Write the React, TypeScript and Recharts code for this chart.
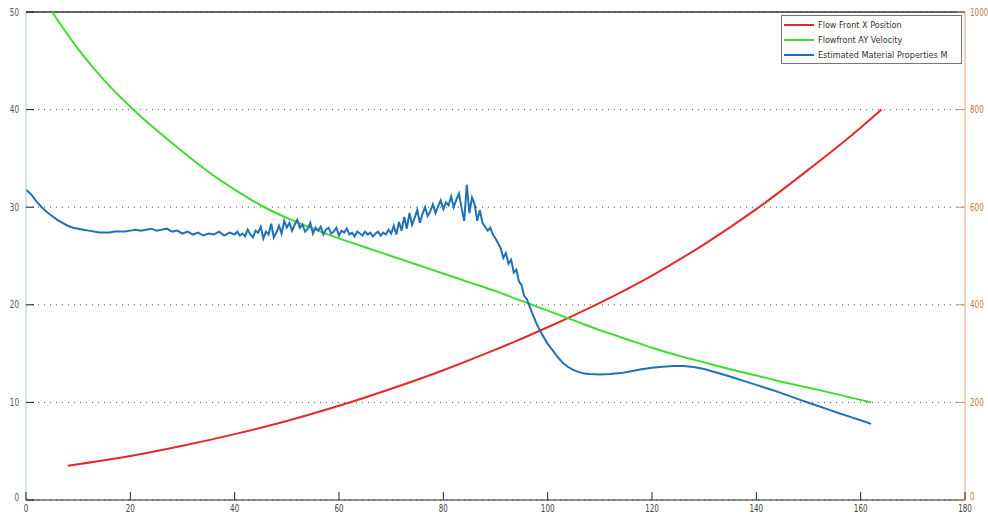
import { LineChart, Line, XAxis, YAxis, CartesianGrid, ReferenceLine, Legend } from 'recharts'

const xTicks = [0, 20, 40, 60, 80, 100, 120, 140, 160, 180]
const leftTicks = [0, 10, 20, 30, 40, 50]
const rightTicks = [0, 200, 400, 600, 800, 1000]

const seriesNames = ['Flow Front X Position', 'Flowfront AY Velocity', 'Estimated Material Properties M']

// flow front x position (right axis)
const frontPosition: [number, number][] = [
  [8, 70], [20, 90], [30, 111], [40, 135], [50, 162], [60, 193], [70, 228], [80, 266],
  [90, 308], [100, 354], [110, 404], [120, 460], [130, 524], [140, 596], [150, 677],
  [160, 763], [164, 800],
]

// flowfront velocity (left axis)
const frontVelocity: [number, number][] = [
  [5, 50], [10, 46.2], [15, 43.0], [20, 40.3], [25, 37.9], [30, 35.7], [35, 33.6],
  [40, 31.8], [45, 30.2], [50, 28.9], [55, 27.8], [60, 26.8], [65, 25.9], [70, 25.0],
  [75, 24.1], [80, 23.2], [85, 22.3], [90, 21.4], [95, 20.4], [100, 19.4], [105, 18.4],
  [110, 17.4], [115, 16.5], [120, 15.6], [125, 14.8], [130, 14.1], [135, 13.4],
  [140, 12.75], [145, 12.1], [150, 11.5], [155, 10.9], [162, 10.0],
]

// estimated material property (left axis)
const materialProp: [number, number][] = [
  [0, 31.8], [1, 31.3], [2, 30.6], [3, 30.0], [4, 29.5], [5, 29.1], [6, 28.7], [7, 28.4],
  [8, 28.1], [9, 27.9], [10, 27.8], [11, 27.7], [12, 27.6], [13, 27.5], [14, 27.4],
  [15, 27.4], [16, 27.4], [17, 27.5], [18, 27.5], [19, 27.5], [20, 27.6], [21, 27.7],
  [22, 27.6], [23, 27.7], [24, 27.8], [25, 27.6], [26, 27.7], [27, 27.8], [28, 27.5],
  [29, 27.6], [30, 27.3], [31, 27.5], [32, 27.2], [33, 27.4], [34, 27.1], [35, 27.3],
  [36, 27.2], [37, 27.5], [38, 27.1], [39, 27.4], [40, 27.2],
  [40.5, 27.5], [41, 27.1], [41.5, 27.3], [42, 27.0], [42.5, 27.7], [43, 27.2], [43.5, 26.9],
  [44, 27.6], [44.5, 27.4], [45, 28.0], [45.5, 26.8], [46, 27.5], [46.5, 27.2], [47, 28.3],
  [47.5, 26.9], [48, 27.4], [48.5, 28.1], [49, 27.3], [49.5, 28.6], [50, 27.9], [50.5, 28.4],
  [51, 27.6], [51.5, 28.2], [52, 28.7], [52.5, 27.9], [53, 28.2], [53.5, 27.5], [54, 27.8],
  [54.5, 28.4], [55, 27.3], [55.5, 27.9], [56, 27.6], [56.5, 28.0], [57, 27.2], [57.5, 27.7],
  [58, 27.9], [58.5, 27.3], [59, 27.5], [59.5, 27.9], [60, 27.1], [60.5, 27.6], [61, 27.4],
  [61.5, 27.8], [62, 27.2], [62.5, 27.4], [63, 27.0], [63.5, 27.5], [64, 27.3], [64.5, 27.1],
  [65, 27.5], [65.5, 27.2], [66, 27.4], [66.5, 27.0], [67, 27.3], [67.5, 27.5], [68, 27.1],
  [68.5, 27.4], [69, 27.2], [69.5, 27.7], [70, 27.3], [70.5, 28.1], [71, 27.2], [71.5, 28.5],
  [72, 27.6], [72.5, 29.0], [73, 27.8], [73.5, 29.4], [74, 28.2], [74.5, 28.9], [75, 29.7],
  [75.5, 28.4], [76, 29.3], [76.5, 30.0], [77, 29.1], [77.5, 29.6], [78, 30.3], [78.5, 29.4],
  [79, 30.1], [79.5, 30.7], [80, 29.8], [80.5, 30.5], [81, 30.2], [81.5, 31.1], [82, 30.0],
  [82.5, 30.8], [83, 31.4], [83.5, 29.9], [84, 28.6], [84.5, 32.3], [85, 29.4], [85.5, 31.0],
  [86, 30.3], [86.5, 28.6], [87, 29.7], [87.5, 28.4], [88, 28.0], [88.5, 27.6], [89, 27.9],
  [89.5, 27.2], [90, 26.8], [90.5, 26.3], [91, 25.8], [91.5, 24.8], [92, 25.3], [92.5, 24.2],
  [93, 24.6], [93.5, 23.3], [94, 23.6], [94.5, 22.4], [95, 22.0], [95.5, 20.9], [96, 20.6],
  [96.5, 19.9], [97, 19.2],
  [98, 17.9], [99, 16.9], [100, 16.0], [101, 15.3], [102, 14.6], [103, 14.0], [104, 13.6],
  [105, 13.3], [106, 13.1], [107, 12.95], [108, 12.9], [110, 12.85], [112, 12.9], [114, 13.0],
  [116, 13.2], [118, 13.4], [120, 13.55], [122, 13.65], [124, 13.72], [126, 13.72],
  [128, 13.62], [130, 13.42], [132, 13.12], [134, 12.8], [136, 12.47], [138, 12.13], [140, 11.8],
  [142, 11.45], [144, 11.1], [146, 10.72], [148, 10.34], [150, 9.97], [152, 9.6], [154, 9.23],
  [156, 8.87], [158, 8.52], [160, 8.17], [162, 7.8],
]

const toRows = (pts: [number, number][]) => pts.map(([x, y]) => ({ x, y }))

const font = '"DejaVu Sans Condensed", "Liberation Sans Narrow", sans-serif'

// narrow text like the matlab export
function Label({ x, y, anchor, fill, dy, children }: any) {
  return (
    <g transform={`translate(${x},${y}) scale(0.8,1)`}>
      <text x={0} y={0} dy={dy} textAnchor={anchor} fontSize={10} fill={fill} fontFamily={font}>
        {children}
      </text>
    </g>
  )
}

function LeftTick({ x, y, payload }: any) {
  return (
    <g>
      <line x1={x + 6} x2={x + 14} y1={y} y2={y} stroke="#222" />
      <Label x={x - 1} y={payload.value === 0 ? y - 3 : y} anchor="end" fill="#555" dy="0.35em">
        {payload.value}
      </Label>
    </g>
  )
}

function RightTick({ x, y, payload }: any) {
  return (
    <g>
      <line x1={x - 4} x2={x - 12} y1={y} y2={y} stroke="#d9924f" />
      <Label x={x + 1} y={payload.value === 0 ? y - 4 : y} anchor="start" fill="#c47a3c" dy="0.35em">
        {payload.value}
      </Label>
    </g>
  )
}

function BottomTick({ x, y, payload }: any) {
  return (
    <g>
      <line x1={x} x2={x} y1={y - 3} y2={y - 11} stroke="#222" />
      <Label x={x} y={y + 1} anchor="middle" fill="#444" dy="0.75em">
        {payload.value}
      </Label>
    </g>
  )
}

function LegendBox({ payload }: any) {
  const items = [...(payload || [])].sort(
    (a: any, b: any) => seriesNames.indexOf(a.value) - seriesNames.indexOf(b.value),
  )
  return (
    <div style={{ border: '1px solid #777', background: '#fff', padding: '1px 2px', fontFamily: font, fontSize: 9, color: '#333' }}>
      {items.map((item: any) => (
        <div key={item.value} style={{ display: 'flex', alignItems: 'center', height: 15, whiteSpace: 'nowrap' }}>
          <span style={{ display: 'inline-block', width: 30, height: 2, background: item.color, marginRight: 4 }} />
          {item.value}
        </div>
      ))}
    </div>
  )
}

export default function App() {
  return (
    <div style={{ width: 988, height: 517, background: '#fff' }}>
      <style>{'body{margin:0}'}</style>
      <LineChart width={988} height={517} margin={{ top: 12, right: 0, bottom: 0, left: 0 }}>
        <CartesianGrid yAxisId="left" vertical={false} stroke="#555" strokeDasharray="1 5" />
        <XAxis
          type="number"
          dataKey="x"
          domain={[0, 180]}
          ticks={xTicks}
          height={17}
          stroke="#222"
          tickSize={0}
          tickMargin={3}
          tick={(p: any) => <BottomTick {...p} />}
          allowDataOverflow
        />
        <YAxis
          yAxisId="left"
          domain={[0, 50]}
          ticks={leftTicks}
          width={26}
          stroke="#9cc6d4"
          tickSize={0}
          tickMargin={6}
          tick={(p: any) => <LeftTick {...p} />}
        />
        <YAxis
          yAxisId="right"
          orientation="right"
          domain={[0, 1000]}
          ticks={rightTicks}
          width={23}
          stroke="#e6a66a"
          tickSize={0}
          tickMargin={4}
          tick={(p: any) => <RightTick {...p} />}
        />
        <ReferenceLine yAxisId="left" y={50} stroke="#333" strokeWidth={1.5} />
        <Legend
          layout="vertical"
          align="center"
          verticalAlign="middle"
          content={(p: any) => <LegendBox {...p} />}
          wrapperStyle={{ top: 15, left: 781, width: 181, height: 47 }}
        />
        <Line
          yAxisId="right"
          data={toRows(frontPosition)}
          dataKey="y"
          name={seriesNames[0]}
          stroke="#e32a2a"
          strokeWidth={2}
          dot={false}
          type="monotone"
          isAnimationActive={false}
        />
        <Line
          yAxisId="left"
          data={toRows(frontVelocity)}
          dataKey="y"
          name={seriesNames[1]}
          stroke="#3ddc2f"
          strokeWidth={2}
          dot={false}
          type="monotone"
          isAnimationActive={false}
        />
        <Line
          yAxisId="left"
          data={toRows(materialProp)}
          dataKey="y"
          name={seriesNames[2]}
          stroke="#1f72b8"
          strokeWidth={2}
          dot={false}
          type="linear"
          isAnimationActive={false}
        />
      </LineChart>
    </div>
  )
}
